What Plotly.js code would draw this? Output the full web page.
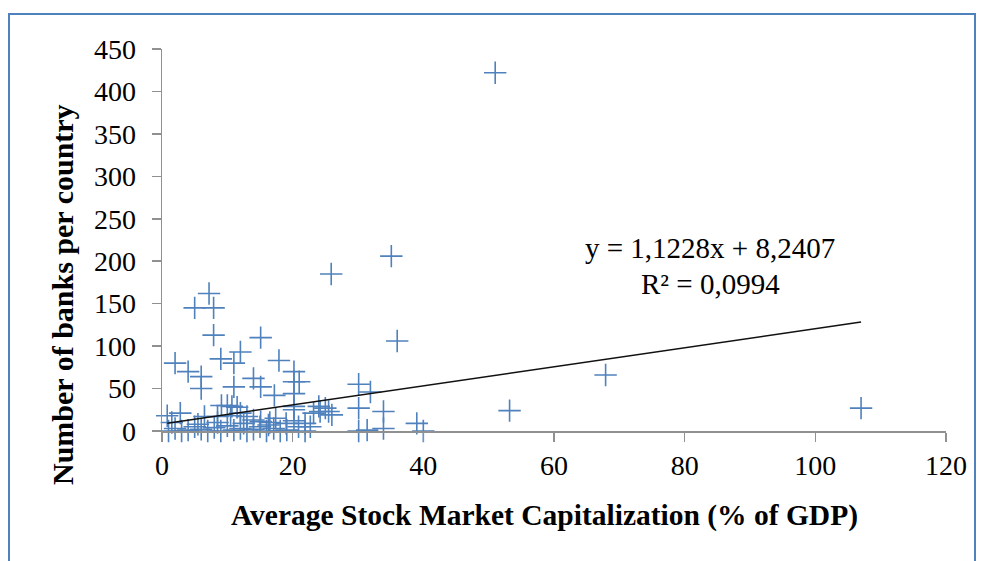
<!DOCTYPE html>
<html>
<head>
<meta charset="utf-8">
<script src="https://cdn.plot.ly/plotly-3.0.1.min.js"></script>
<style>
  html, body { margin: 0; padding: 0; background: #fff; }
  #wrap { position: relative; width: 982px; height: 561px; overflow: hidden; }
  #chart { width: 982px; height: 561px; }
  #frame { position: absolute; left: 8px; top: 13px; width: 968px; height: 600px;
           border: 2.5px solid #4F81BD; box-sizing: border-box; pointer-events: none; }
</style>
</head>
<body>
<div id="wrap">
  <div id="chart"></div>
  <div id="frame"></div>
</div>
<script>
// Average stock market capitalization (% of GDP)
const capX = [
  51.0, 35.1, 25.9, 36.0, 53.2, 67.9, 107.0,
  7.2, 5.0, 7.9, 7.9, 15.1, 2.0, 9.0, 12.0, 11.0, 17.9, 4.0, 6.0, 6.0,
  11.0, 14.0, 15.1, 20.2, 20.2, 21.0, 17.2, 20.2, 30.1, 31.9,
  9.1, 10.0, 10.7, 11.5, 0.8, 2.8, 12.0, 13.0, 14.0, 15.1, 16.3, 17.4,
  20.2, 20.2, 20.2, 20.9, 21.9, 22.7, 23.2, 24.2, 25.0, 25.5, 26.0, 24.0,
  30.1, 33.9, 30.1, 31.4, 33.9, 39.0, 40.0, 21.9,
  1.0, 2.0, 3.0, 4.0, 5.0, 6.0, 7.0, 8.0, 9.0, 10.0, 11.0, 12.0, 13.0,
  14.0, 15.0, 16.0, 17.1, 18.1, 19.1,
  1.5, 5.5, 8.5, 12.5, 16.5, 19.0, 6.5, 8.5, 10.5
];
// Number of banks per country
const banksY = [
  422, 206, 185, 106, 24, 66, 27,
  162, 145, 145, 113, 110, 80, 85, 93, 80, 83, 70, 64, 50,
  52, 62, 52, 70, 58, 58, 42, 44, 55, 46,
  30, 30, 29, 28, 18, 21, 21, 17, 13, 11, 7, 15,
  29, 25, 12, 5, 9, 5, 21, 23, 27, 23, 19, 29,
  27, 23, 0, 1, 3, 9, 0, 0,
  0, 3, 0, 1, 5, 2, 0, 4, 0, 6, 1, 3, 0,
  2, 5, 0, 3, 0, 1,
  10, 8, 10, 9, 10, 9, 17, 17, 18
];
// Linear trendline as printed on the chart
const slope = 1.1228;
const intercept = 8.2407;
const r2 = 0.0994;
const xTicks = [0, 20, 40, 60, 80, 100, 120];
const yTicks = [0, 50, 100, 150, 200, 250, 300, 350, 400, 450];
const xTitle = 'Average Stock Market Capitalization (% of GDP)';
const yTitle = 'Number of banks per country';

const xMin = Math.min(...capX), xMax = Math.max(...capX);
const trendX = [xMin, xMax];
const trendY = trendX.map(v => slope * v + intercept);

const fmt = (v, d) => v.toFixed(d).replace('.', ',');
const eqText = 'y = ' + fmt(slope, 4) + 'x + ' + fmt(intercept, 4);
const r2Text = 'R² = ' + fmt(r2, 4);

const serif = 'Liberation Serif, Times New Roman, serif';

const data = [
  {
    type: 'scatter', mode: 'markers', x: capX, y: banksY,
    cliponaxis: false,
    marker: { symbol: 'cross-thin-open', size: 16, color: '#4F81BD',
              line: { color: '#4F81BD', width: 1.6 } },
    hoverinfo: 'x+y', showlegend: false
  },
  {
    type: 'scatter', mode: 'lines', x: trendX, y: trendY,
    line: { color: '#111111', width: 1.5 },
    hoverinfo: 'skip', showlegend: false
  }
];

const layout = {
  width: 982, height: 561,
  margin: { l: 162, r: 36, t: 49, b: 130 },
  paper_bgcolor: '#ffffff', plot_bgcolor: '#ffffff',
  font: { family: serif, color: '#000000', size: 28 },
  xaxis: {
    range: [0, 120], tickvals: xTicks, ticktext: xTicks.map(String),
    showgrid: false, zeroline: false, showline: true, linecolor: '#909090', linewidth: 1.5,
    ticks: 'outside', ticklen: 9, tickcolor: '#909090', tickwidth: 1.5,
    tickfont: { family: serif, size: 28, color: '#000' },
    fixedrange: true
  },
  yaxis: {
    range: [0, 450], tickvals: yTicks, ticktext: yTicks.map(String),
    showgrid: false, zeroline: false, showline: true, linecolor: '#909090', linewidth: 1.5,
    ticks: 'outside', ticklen: 9, tickcolor: '#909090', tickwidth: 1.5,
    ticklabelstandoff: 10,
    tickfont: { family: serif, size: 28, color: '#000' },
    fixedrange: true
  },
  annotations: [
    { x: 83.9, y: 216, xref: 'x', yref: 'y', text: eqText, showarrow: false,
      font: { family: serif, size: 29, color: '#000' } },
    { x: 83.9, y: 173, xref: 'x', yref: 'y', text: r2Text, showarrow: false,
      font: { family: serif, size: 29, color: '#000' } },
    { x: 0.4885, y: -0.2225, xref: 'paper', yref: 'paper', xanchor: 'center', yanchor: 'middle',
      text: '<b>' + xTitle + '</b>', showarrow: false,
      font: { family: serif, size: 29.5, color: '#000' } },
    { x: -0.1276, y: 0.3586, xref: 'paper', yref: 'paper', xanchor: 'center', yanchor: 'middle',
      textangle: -90, text: '<b>' + yTitle + '</b>', showarrow: false,
      font: { family: serif, size: 30, color: '#000' } }
  ]
};

Plotly.newPlot('chart', data, layout, { displayModeBar: false, staticPlot: true });
</script>
</body>
</html>
